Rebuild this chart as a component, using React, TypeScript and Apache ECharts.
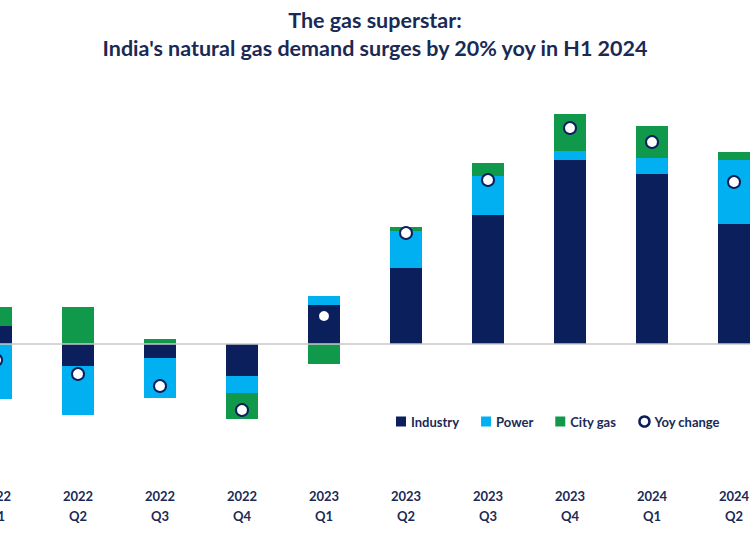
import React, { useEffect, useRef } from "react";
import * as echarts from "echarts";

const categories = ["2022\nQ1", "2022\nQ2", "2022\nQ3", "2022\nQ4", "2023\nQ1", "2023\nQ2", "2023\nQ3", "2023\nQ4", "2024\nQ1", "2024\nQ2"];
const industry = [3.6, -4.4, -2.8, -6.4, 7.8, 15.2, 25.8, 36.8, 34, 24];
const power = [-11, -9.8, -8, -3.4, 1.8, 7.4, 7.8, 1.8, 3.2, 12.8];
const cityGas = [3.8, 7.4, 1, -5.2, -4, 0.8, 2.6, 7.4, 6.4, 1.6];
const yoyChange = [-3.2, -6, -8.4, -13.2, 5.6, 22.2, 32.8, 43.2, 40.4, 32.4];

const NAVY = "#0b1f5c";
const LIGHT = "#00b0f0";
const GREEN = "#10994a";
const TEXT = "#1a2a55";
const FONT = "Lato, 'Open Sans', sans-serif";

export default function App() {
  const ref = useRef<HTMLDivElement>(null);
  useEffect(() => {
    if (!ref.current) return;
    const chart = echarts.init(ref.current, null, { renderer: "svg" });
    chart.setOption({
      animation: false,
      backgroundColor: "#ffffff",
      title: {
        text: "The gas superstar:\nIndia's natural gas demand surges by 20% yoy in H1 2024",
        left: "center",
        top: 1,
        textStyle: {
          color: TEXT,
          fontFamily: FONT,
          fontWeight: "bold",
          fontSize: 21.5,
          lineHeight: 28,
        },
      },
      legend: {
        left: 451,
        top: 410,
        itemWidth: 10,
        itemHeight: 10,
        itemGap: 22,
        textStyle: { color: TEXT, fontFamily: FONT, fontWeight: "bold", fontSize: 13 },
        data: [
          { name: "Industry", icon: "rect" },
          { name: "Power", icon: "rect" },
          { name: "City gas", icon: "rect" },
          { name: "Yoy change", icon: "circle", itemStyle: { color: "#fff", borderColor: NAVY, borderWidth: 2.5 } },
        ],
      },
      grid: { left: 15, top: 94, width: 820, height: 350, containLabel: false },
      xAxis: {
        type: "category",
        data: categories,
        axisLine: { show: false },
        axisTick: { show: false },
        axisLabel: {
          margin: 42,
          color: TEXT,
          fontFamily: FONT,
          fontWeight: "bold",
          fontSize: 13,
          lineHeight: 20,
          verticalAlign: "top",
        },
      },
      yAxis: {
        type: "value",
        min: -20,
        max: 50,
        show: false,
        splitLine: { show: false },
      },
      series: [
        {
          name: "Industry",
          type: "bar",
          stack: "d",
          barWidth: 32,
          itemStyle: { color: NAVY },
          data: industry,
          markLine: {
            silent: true,
            symbol: "none",
            label: { show: false },
            lineStyle: { color: "#c8c8c8", width: 1.5, type: "solid" },
            data: [{ yAxis: 0 }],
          },
        },
        { name: "Power", type: "bar", stack: "d", barWidth: 32, itemStyle: { color: LIGHT }, data: power },
        { name: "City gas", type: "bar", stack: "d", barWidth: 32, itemStyle: { color: GREEN }, data: cityGas },
        {
          name: "Yoy change",
          type: "scatter",
          symbol: "circle",
          symbolSize: 12,
          itemStyle: { color: "#ffffff", borderColor: NAVY, borderWidth: 2, opacity: 1 },
          data: yoyChange,
          z: 5,
        },
      ],
    });
    return () => chart.dispose();
  }, []);
  return (
    <div style={{ position: "fixed", left: 0, top: 0, width: 750, height: 536, overflow: "hidden", background: "#fff" }}>
      <div ref={ref} style={{ position: "absolute", left: -60, top: 0, width: 870, height: 536 }} />
    </div>
  );
}
